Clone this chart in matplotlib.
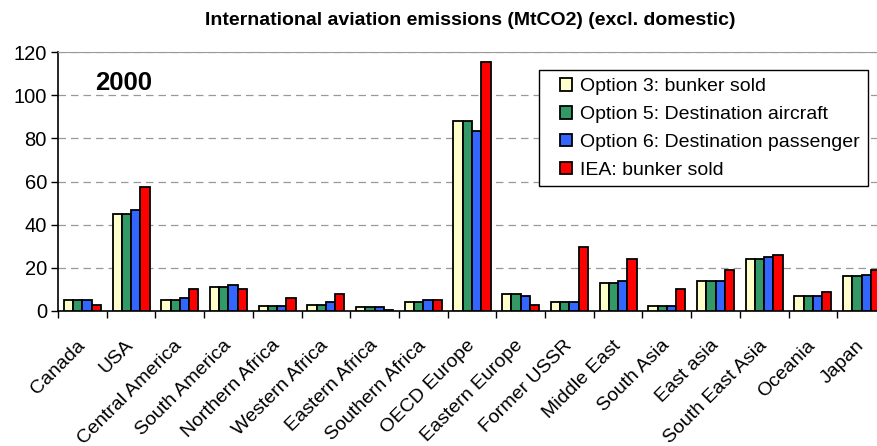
import numpy as np
import matplotlib.pyplot as plt
from matplotlib.patches import Rectangle
from matplotlib.legend_handler import HandlerPatch
from matplotlib.transforms import ScaledTranslation

plt.rcParams['font.family'] = ['Liberation Sans', 'DejaVu Sans']

regions = ["Canada", "USA", "Central America", "South America", "Northern Africa",
           "Western Africa", "Eastern Africa", "Southern Africa", "OECD Europe",
           "Eastern Europe", "Former USSR", "Middle East", "South Asia", "East asia",
           "South East Asia", "Oceania", "Japan"]

opt3 = [5, 45, 5, 11, 2.5, 3, 2, 4, 88, 8, 4, 13, 2.5, 14, 24, 7, 16]
opt5 = [5, 45, 5, 11, 2.5, 3, 2, 4, 88, 8, 4, 13, 2.5, 14, 24, 7, 16]
opt6 = [5, 47, 6, 12, 2.5, 4, 2, 5, 83.5, 7, 4, 14, 2.5, 14, 25, 7, 16.5]
iea = [3, 57.5, 10, 10, 6, 8, 0.5, 5, 115.5, 3, 29.5, 24, 10, 19, 26, 9, 19]

series = [opt3, opt5, opt6, iea]
labels = ["Option 3: bunker sold", "Option 5: Destination aircraft",
          "Option 6: Destination passenger", "IEA: bunker sold"]
colors = ["#FFFFCC", "#339966", "#3366FF", "#FF0000"]


def small_square(legend, orig_handle, xdescent, ydescent, width, height, fontsize):
    # little square near the right end of the handle box
    s = 9
    return Rectangle((-xdescent + width - s - 4, -ydescent + (height - s) / 2), s, s)


fig = plt.figure(figsize=(8.77, 4.46), dpi=100)
ax = fig.add_axes([58 / 877, (446 - 311) / 446, 828 / 877, (311 - 52) / 446])

x = np.arange(len(regions))
w = 0.19
handles = []
for i, (vals, lab, col) in enumerate(zip(series, labels, colors)):
    b = ax.bar(x + (i - 1.5) * w, vals, width=w, color=col, edgecolor='black',
               linewidth=1.3, label=lab, zorder=3)
    handles.append(b.patches[0])

ax.set_xlim(-0.5, len(regions) - 0.5)
ax.set_ylim(0, 120)
ax.set_yticks(range(0, 121, 20))
ax.yaxis.grid(True, linestyle=(0, (6, 4)), color='#999999', linewidth=0.9, zorder=0)

ax.set_xticks(x)
ax.set_xticklabels(regions, rotation=45, ha='right', va='center',
                   rotation_mode='anchor', fontsize=14)
# move the rotated labels a little to the left, like the original
shift = ScaledTranslation(-6 / 100, 0, fig.dpi_scale_trans)
for lbl in ax.get_xticklabels():
    lbl.set_transform(lbl.get_transform() + shift)
ax.set_xticks(np.arange(-0.5, len(regions), 1), minor=True)
ax.tick_params(axis='x', which='major', length=0, pad=23)
ax.tick_params(axis='x', which='minor', length=5, width=1, direction='out')
ax.tick_params(axis='y', labelsize=14.5, length=5, width=1, direction='out', pad=3)

ax.spines['right'].set_visible(False)
ax.spines['top'].set_color('#999999')
ax.spines['left'].set_linewidth(1.2)
ax.spines['bottom'].set_linewidth(1.2)

ax.text(0.26, 105.5, "2000", fontsize=18.5, fontweight='bold', va='center')

fig.text(0.536, 0.955, "International aviation emissions (MtCO2) (excl. domestic)",
         ha='center', va='center', fontsize=14, fontweight='bold')

leg = ax.legend(handles, labels, loc='upper right', bbox_to_anchor=(868 / 877, 1 - 70 / 446),
                bbox_transform=fig.transFigure, fontsize=14, fancybox=False,
                framealpha=1, edgecolor='black', borderaxespad=0,
                handlelength=1.6, handleheight=0.7, handletextpad=0.15,
                labelspacing=0.52, borderpad=0.4,
                handler_map={Rectangle: HandlerPatch(patch_func=small_square)})
leg.get_frame().set_linewidth(1)

fig.savefig("out.png", dpi=100)
